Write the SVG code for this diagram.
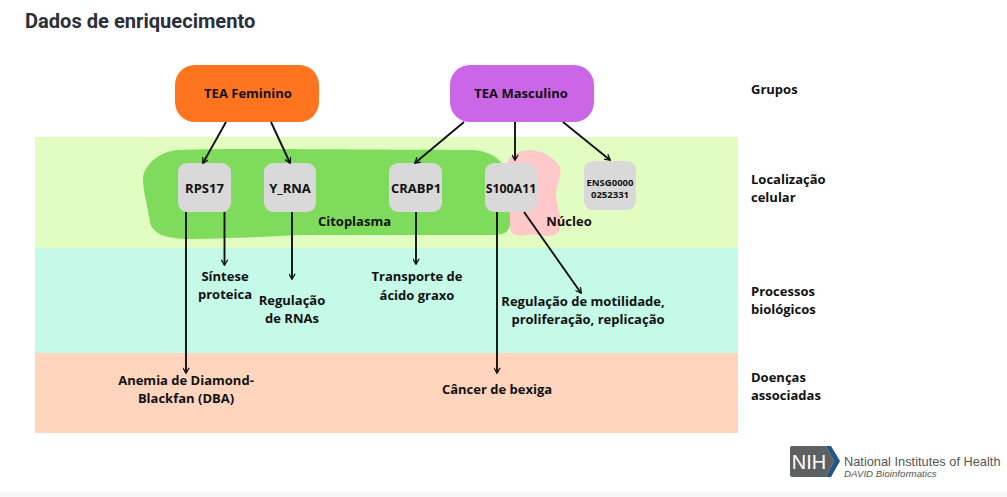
<svg xmlns="http://www.w3.org/2000/svg" width="1007" height="497" viewBox="0 0 1007 497">
<style>
text{font-family:"Open Sans","Noto Sans",sans-serif;font-weight:700;font-size:13px;fill:#111;text-anchor:middle}
.l{text-anchor:start}
.g{fill:#d9d9d9}
.c line{stroke:#111;stroke-width:1.9;marker-end:url(#a)}
.n{font-family:"Liberation Sans",sans-serif;font-weight:400;fill:#555}
</style>
<defs><marker id="a" viewBox="0 0 10 10" refX="8.5" refY="5" markerWidth="7" markerHeight="7" markerUnits="userSpaceOnUse" orient="auto"><path d="M1 0.5L9 5L1 9.5" fill="none" stroke="#111" stroke-width="1.8"/></marker></defs>
<rect width="1007" height="497" fill="#fff"/>
<rect y="492" width="1007" height="5" fill="#f8f8f8"/>
<text class="l" x="25" y="28" style="font-family:Roboto,sans-serif;font-size:20.1px;fill:#2b2f3a">Dados de enriquecimento</text>
<g id="bands">
<rect x="35" y="137" width="703" height="111" fill="#e2fdc1"/>
<rect x="35" y="248" width="703" height="105" fill="#c5f9e8"/>
<rect x="35" y="353" width="703" height="80" fill="#ffd6bd"/>
</g>
<g id="nucleo">
<path d="M508 160C514 152 527 148 537 151C548 153 556 160 560 167C562 176 557 185 556 193C556 203 561 215 561 224C561 232 556 236 549 236C541 236 535 234 528 235C519 237 509 236 510 226C510 204 504 178 508 160Z" fill="#ffc9c9"/>
<text x="569" y="226">Núcleo</text>
</g>
<g id="citoplasma">
<path d="M178 150C250 148 340 150 470 150C490 150 503 160 506 172C509 190 510 210 510 224C509 233 503 235 490 235L300 235C260 237 215 239 185 239C165 238 153 234 150 222C148 208 143 192 143 178C144 165 160 151 178 150Z" fill="#7fdb5b"/>
<text x="354.500" y="226">Citoplasma</text>
</g>
<g id="tea-f"><rect x="175" y="65" width="144" height="57" rx="20" fill="#ff751f"/><text x="248" y="98">TEA Feminino</text></g>
<g id="tea-m"><rect x="450" y="65" width="144" height="57" rx="20" fill="#cb66e6"/><text x="521" y="98">TEA Masculino</text></g>
<g id="rps17"><rect class="g" x="178" y="163" width="53" height="49" rx="9"/><text x="204.500" y="193">RPS17</text></g>
<g id="y-rna"><rect class="g" x="264" y="163" width="52" height="49" rx="9"/><text x="290" y="193">Y_RNA</text></g>
<g id="crabp1"><rect class="g" x="389" y="163" width="53" height="49" rx="9"/><text x="416" y="193">CRABP1</text></g>
<g id="s100a11"><rect class="g" x="485" y="163" width="52" height="49" rx="9"/><text x="511" y="193" style="font-size:12.3px">S100A11</text></g>
<g id="ensg"><rect class="g" x="584" y="161" width="52" height="49" rx="9"/><text x="610" y="186" style="font-size:9.5px">ENSG0000</text><text x="610" y="198" style="font-size:9.5px">0252331</text></g>
<g class="c" id="connectors">
<line x1="226" y1="122" x2="203" y2="163"/>
<line x1="271" y1="122" x2="290" y2="163"/>
<line x1="464" y1="122" x2="415" y2="163"/>
<line x1="515" y1="122" x2="515" y2="160"/>
<line x1="563" y1="122" x2="610" y2="160"/>
<line x1="186" y1="212" x2="186" y2="373"/>
<line x1="224.500" y1="212" x2="224.500" y2="265"/>
<line x1="292" y1="212" x2="292" y2="279"/>
<line x1="416" y1="212" x2="416" y2="264"/>
<line x1="497" y1="212" x2="497" y2="373"/>
<line x1="524" y1="212" x2="581" y2="293"/>
</g>
<g id="labels">
<text x="225" y="281">Síntese</text><text x="225" y="299">proteica</text>
<text x="292" y="305">Regulação</text><text x="292" y="323">de RNAs</text>
<text x="417" y="281">Transporte de</text><text x="417" y="300">ácido graxo</text>
<text x="583" y="306">Regulação de motilidade,</text><text x="588" y="324">proliferação, replicação</text>
<text x="186" y="385">Anemia de Diamond-</text><text x="186" y="403">Blackfan (DBA)</text>
<text x="497" y="394">Câncer de bexiga</text>
<text class="l" x="751" y="94">Grupos</text>
<text class="l" x="751" y="184">Localização</text><text class="l" x="751" y="202">celular</text>
<text class="l" x="751" y="296">Processos</text><text class="l" x="751" y="314">biológicos</text>
<text class="l" x="751" y="382">Doenças</text><text class="l" x="751" y="400">associadas</text>
</g>
<g id="nih">
<path d="M792 446H826L834 461L826 477H792Q790 477 790 475V448Q790 446 792 446Z" fill="#5f6062"/>
<path d="M826 446H831L840 461L831 477H826L834 461Z" fill="#20558a"/>
<text x="809" y="469" class="n" style="font-size:20px;fill:#fff">NIH</text>
<text class="l n" x="844" y="466" style="font-size:12.8px">National Institutes of Health</text>
<text class="l n" x="844" y="477" style="font-style:italic;font-size:9.7px">DAVID Bioinformatics</text>
</g>
</svg>
